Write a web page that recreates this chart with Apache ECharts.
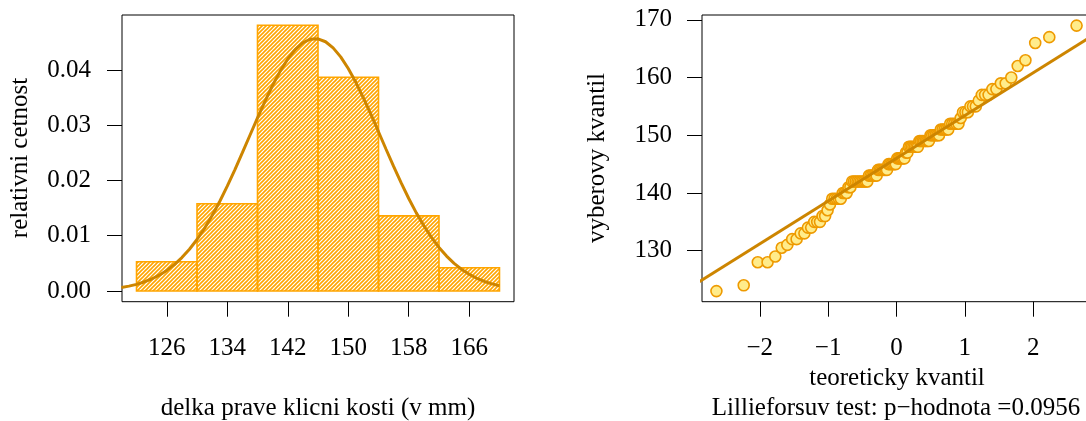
<!DOCTYPE html>
<html>
<head>
<meta charset="utf-8">
<script src="https://cdn.jsdelivr.net/npm/echarts@6/dist/echarts.min.js"></script>
<style>
html,body{margin:0;padding:0;background:#fff;}
#chart{width:1086px;height:421px;}
</style>
</head>
<body>
<div id="chart"></div>
<script>
// ---- Histogram data (left panel) ----
const binStart = [122, 130, 138, 146, 154, 162];
const binEnd   = [130, 138, 146, 154, 162, 170];
const density  = [0.0053, 0.0158, 0.0481, 0.0387, 0.0136, 0.0042];
const histXTicks = [126, 134, 142, 150, 158, 166];
const histYTicks = [0, 0.01, 0.02, 0.03, 0.04];
// normal density curve
const curveX = [120,121,122,123,124,125,126,127,128,129,130,131,132,133,134,135,136,137,138,139,140,141,142,143,144,145,
  146,147,148,149,150,151,152,153,154,155,156,157,158,159,160,161,162,163,164,165,166,167,168,169,170];
const curveY = [0.00063,0.00088,0.00120,0.00163,0.00217,0.00286,0.00372,0.00477,0.00604,0.00756,0.00932,0.01136,0.01365,
  0.01620,0.01898,0.02194,0.02503,0.02819,0.03134,0.03438,0.03724,0.03980,0.04199,0.04373,0.04494,0.04559,
  0.04565,0.04512,0.04401,0.04238,0.04027,0.03777,0.03497,0.03196,0.02883,0.02566,0.02255,0.01956,0.01674,
  0.01414,0.01180,0.00971,0.00789,0.00632,0.00501,0.00391,0.00302,0.00230,0.00172,0.00128,0.00094];

// ---- Q-Q plot data (right panel) ----
const qqTheor = [
-2.634,-2.235,-2.029,-1.886,-1.773,-1.679,-1.597,-1.526,-1.461,-1.402,
-1.347,-1.296,-1.248,-1.203,-1.160,-1.119,-1.081,-1.044,-1.008,-0.973,
-0.940,-0.907,-0.875,-0.844,-0.815,-0.785,-0.757,-0.729,-0.702,-0.674,
-0.648,-0.622,-0.597,-0.571,-0.546,-0.522,-0.498,-0.474,-0.450,-0.427,
-0.404,-0.381,-0.358,-0.336,-0.313,-0.291,-0.269,-0.247,-0.225,-0.203,
-0.182,-0.160,-0.139,-0.117,-0.096,-0.074,-0.053,-0.032,-0.011,
0.011,0.032,0.053,0.074,0.096,0.117,0.139,0.160,0.182,0.203,
0.225,0.247,0.269,0.291,0.313,0.336,0.358,0.381,0.404,0.427,
0.450,0.474,0.498,0.522,0.546,0.571,0.597,0.622,0.648,0.674,
0.702,0.729,0.757,0.785,0.815,0.844,0.875,0.907,0.940,0.973,
1.008,1.044,1.081,1.119,1.160,1.203,1.248,1.296,1.347,1.402,
1.461,1.526,1.597,1.679,1.773,1.886,2.029,2.235,2.634];
const qqSample = [
123,124,128,128,129,130.5,131,132,132,133,
133,134,134,135,135,135,136,136,137,138,
139,139,139,139,139,140,140,140,141,141,
142,142,142,142,142,142,142,142,142,142,
143,143,143,143,143,143,144,144,144,144,
144,144,144,145,145,145,145,145,145,146,
146,146,146,146,146,147,147,148,148,148,
148,148,148,148,149,149,149,149,149,149,
149,150,150,150,150,150,150,151,151,151,
151,151,152,152,152,152,152,153,154,154,
154,155,155,155,156,157,157,157,158,158,
159,159,160,162,163,166,167,169];
const qqLineX = [-3, 3];
const qqLineY = [123.76, 168.24];
const qqXTicks = [-2, -1, 0, 1, 2];
const qqYTicks = [130, 140, 150, 160, 170];

// ---- texts ----
const histXTitle = 'delka prave klicni kosti (v mm)';
const histYTitle = 'relativni cetnost';
const qqXTitle = 'teoreticky kvantil';
const qqYTitle = 'vyberovy kvantil';
const qqNote = 'Lillieforsuv test: p\u2212hodnota =0.0956';

const FONT = 'Liberation Serif, Times New Roman, serif';
const FS = 25;

// hatch pattern
const pat = document.createElement('canvas');
pat.width = 4; pat.height = 4;
(function(){
  const c = pat.getContext('2d');
  c.strokeStyle = '#FFA500';
  c.lineWidth = 1.6;
  c.beginPath();
  c.moveTo(-1, 5); c.lineTo(5, -1);
  c.moveTo(-1, 1); c.lineTo(1, -1);
  c.moveTo(3, 5); c.lineTo(5, 3);
  c.stroke();
})();
const hatch = {image: pat, repeat: 'repeat'};

const minusFmt = v => (v < 0 ? '\u2212' + Math.abs(v) : String(v));

function mkAxis(extra, ticks, margin, fmt) {
  const ax = Object.assign({
    type: 'value',
    axisLine: {show: false, onZero: false},
    splitLine: {show: false},
    axisTick: {show: true, inside: false, length: 15, customValues: ticks, lineStyle: {color: '#000', width: 1}},
    axisLabel: {customValues: ticks, margin: margin, color: '#000', fontFamily: FONT, fontSize: FS}
  }, extra);
  if (fmt) ax.axisLabel.formatter = fmt;
  return ax;
}

const chart = echarts.init(document.getElementById('chart'), null, {renderer: 'canvas'});
chart.setOption({
  animation: false,
  backgroundColor: '#fff',
  grid: [
    {left: 122, top: 15, width: 392, height: 286.7, show: true, borderColor: '#000', borderWidth: 1,
     backgroundColor: 'transparent', outerBoundsMode: 'none', containLabel: false},
    {left: 702, top: 15, width: 389, height: 286.7, show: true, borderColor: '#000', borderWidth: 1,
     backgroundColor: 'transparent', outerBoundsMode: 'none', containLabel: false}
  ],
  xAxis: [
    mkAxis({gridIndex: 0, min: 120.08, max: 171.92}, histXTicks, 34),
    mkAxis({gridIndex: 1, min: -2.845, max: 2.845}, qqXTicks, 34, minusFmt)
  ],
  yAxis: [
    mkAxis({gridIndex: 0, min: -0.00194, max: 0.04996}, histYTicks, 31, v => v.toFixed(2)),
    mkAxis({gridIndex: 1, min: 121.16, max: 170.84}, qqYTicks, 30)
  ],
  series: [
    {
      type: 'custom', xAxisIndex: 0, yAxisIndex: 0, z: 2,
      data: binStart.map((b, i) => [b, binEnd[i], density[i]]),
      encode: {x: [0, 1], y: 2},
      renderItem: function(params, api) {
        const p0 = api.coord([api.value(0), api.value(2)]);
        const p1 = api.coord([api.value(1), 0]);
        return {
          type: 'rect',
          shape: {x: p0[0], y: p0[1], width: p1[0] - p0[0], height: p1[1] - p0[1]},
          style: {fill: hatch, stroke: '#FFA500', lineWidth: 1.6}
        };
      }
    },
    {
      type: 'line', xAxisIndex: 0, yAxisIndex: 0, z: 3,
      data: curveX.map((x, i) => [x, curveY[i]]),
      smooth: false, showSymbol: false, symbol: 'none',
      lineStyle: {color: '#CD8500', width: 3}
    },
    {
      type: 'scatter', xAxisIndex: 1, yAxisIndex: 1, z: 2,
      data: qqTheor.map((x, i) => [x, qqSample[i]]),
      symbol: 'circle', symbolSize: 11,
      itemStyle: {color: '#FFEC8B', borderColor: '#EE9A00', borderWidth: 1.6, opacity: 1}
    },
    {
      type: 'line', xAxisIndex: 1, yAxisIndex: 1, z: 3, clip: true,
      data: qqLineX.map((x, i) => [x, qqLineY[i]]),
      showSymbol: false, symbol: 'none',
      lineStyle: {color: '#CD8500', width: 3}
    }
  ],
  graphic: [
    {type: 'text', x: 318, y: 408, style: {text: histXTitle, font: FS + 'px ' + FONT, fill: '#000', textAlign: 'center', textVerticalAlign: 'middle'}},
    {type: 'text', x: 20, y: 158, rotation: Math.PI / 2, style: {text: histYTitle, font: FS + 'px ' + FONT, fill: '#000', textAlign: 'center', textVerticalAlign: 'middle'}},
    {type: 'text', x: 897, y: 378, style: {text: qqXTitle, font: FS + 'px ' + FONT, fill: '#000', textAlign: 'center', textVerticalAlign: 'middle'}},
    {type: 'text', x: 896, y: 408, style: {text: qqNote, font: FS + 'px ' + FONT, fill: '#000', textAlign: 'center', textVerticalAlign: 'middle'}},
    {type: 'text', x: 597, y: 158, rotation: Math.PI / 2, style: {text: qqYTitle, font: FS + 'px ' + FONT, fill: '#000', textAlign: 'center', textVerticalAlign: 'middle'}}
  ]
});
</script>
</body>
</html>
